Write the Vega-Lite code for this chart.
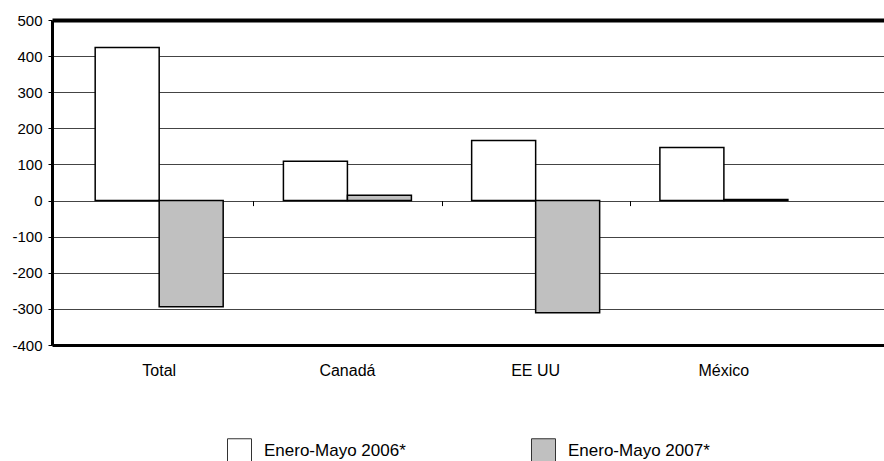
{
  "$schema": "https://vega.github.io/schema/vega-lite/v6.json",
  "width": 832,
  "height": 325,
  "autosize": "none",
  "padding": {"left": 52, "top": 20, "right": 0, "bottom": 116},
  "background": "white",
  "config": {
    "view": {"stroke": null},
    "font": "Liberation Sans",
    "axis": {"labelFont": "Liberation Sans", "labelColor": "black"}
  },
  "data": {
    "values": [
      {"Region": "Total", "Periodo": "Enero-Mayo 2006*", "Valor": 424},
      {"Region": "Total", "Periodo": "Enero-Mayo 2007*", "Valor": -294},
      {"Region": "Canadá", "Periodo": "Enero-Mayo 2006*", "Valor": 109},
      {"Region": "Canadá", "Periodo": "Enero-Mayo 2007*", "Valor": 15},
      {"Region": "EE UU", "Periodo": "Enero-Mayo 2006*", "Valor": 166},
      {"Region": "EE UU", "Periodo": "Enero-Mayo 2007*", "Valor": -311},
      {"Region": "México", "Periodo": "Enero-Mayo 2006*", "Valor": 147},
      {"Region": "México", "Periodo": "Enero-Mayo 2007*", "Valor": 3}
    ]
  },
  "resolve": {"axis": {"x": "independent"}},
  "layer": [
    {
      "mark": {"type": "bar", "stroke": "black", "strokeWidth": 1.5},
      "encoding": {
        "x": {
          "field": "Region",
          "type": "nominal",
          "sort": ["Total", "Canadá", "EE UU", "México"],
          "scale": {"paddingInner": 0.32, "paddingOuter": 0.37, "align": 0.31},
          "axis": {
            "title": null,
            "orient": "bottom",
            "labelAngle": 0,
            "labelFontSize": 16,
            "labelPadding": 17,
            "ticks": false,
            "domain": true,
            "domainColor": "black",
            "domainWidth": 3,
            "grid": false
          }
        },
        "xOffset": {
          "field": "Periodo",
          "type": "nominal",
          "scale": {"paddingInner": 0, "paddingOuter": 0}
        },
        "y": {
          "field": "Valor",
          "type": "quantitative",
          "scale": {"domain": [-400, 500], "nice": false, "zero": true},
          "axis": {
            "title": null,
            "values": [-400, -300, -200, -100, 0, 100, 200, 300, 400, 500],
            "labelExpr": "'' + datum.value",
            "labelOverlap": false,
            "labelFontSize": 15,
            "labelPadding": 6,
            "tickSize": 4,
            "tickColor": "black",
            "domain": true,
            "domainColor": "black",
            "domainWidth": 3,
            "grid": true,
            "gridColor": {"condition": {"test": "datum.value === 500", "value": "black"}, "value": "#444444"},
            "gridWidth": {"condition": {"test": "datum.value === 500", "value": 4}, "value": 1},
            "gridOpacity": 1
          }
        },
        "color": {
          "field": "Periodo",
          "type": "nominal",
          "scale": {"domain": ["Enero-Mayo 2006*", "Enero-Mayo 2007*"], "range": ["#ffffff", "#c0c0c0"]},
          "legend": {
            "title": null,
            "orient": "none",
            "legendX": 175,
            "legendY": 418,
            "direction": "horizontal",
            "symbolType": "square",
            "symbolSize": 576,
            "symbolStrokeColor": "#333333",
            "symbolStrokeWidth": 1,
            "labelFontSize": 17,
            "labelFont": "Liberation Sans",
            "labelColor": "black",
            "labelOffset": 12,
            "columnPadding": 123
          }
        }
      }
    },
    {
      "mark": {"type": "rule", "opacity": 0},
      "encoding": {
        "x": {
          "field": "Region",
          "type": "nominal",
          "sort": ["Total", "Canadá", "EE UU", "México"],
          "axis": {
            "title": null,
            "orient": "bottom",
            "offset": -144.4,
            "values": ["Canadá", "EE UU", "México"],
            "bandPosition": 0,
            "tickOffset": -30,
            "ticks": true,
            "tickSize": 5,
            "tickColor": "black",
            "labels": false,
            "domain": false,
            "grid": false
          }
        },
        "y": {
          "datum": 0,
          "type": "quantitative",
          "axis": {
            "title": null,
            "values": [-400, -300, -200, -100, 0, 100, 200, 300, 400, 500],
            "labelExpr": "'' + datum.value",
            "labelOverlap": false,
            "labelFontSize": 15,
            "labelPadding": 6,
            "tickSize": 4,
            "tickColor": "black",
            "domain": true,
            "domainColor": "black",
            "domainWidth": 3,
            "grid": true,
            "gridColor": {"condition": {"test": "datum.value === 500", "value": "black"}, "value": "#444444"},
            "gridWidth": {"condition": {"test": "datum.value === 500", "value": 4}, "value": 1},
            "gridOpacity": 1
          }
        }
      }
    }
  ]
}
